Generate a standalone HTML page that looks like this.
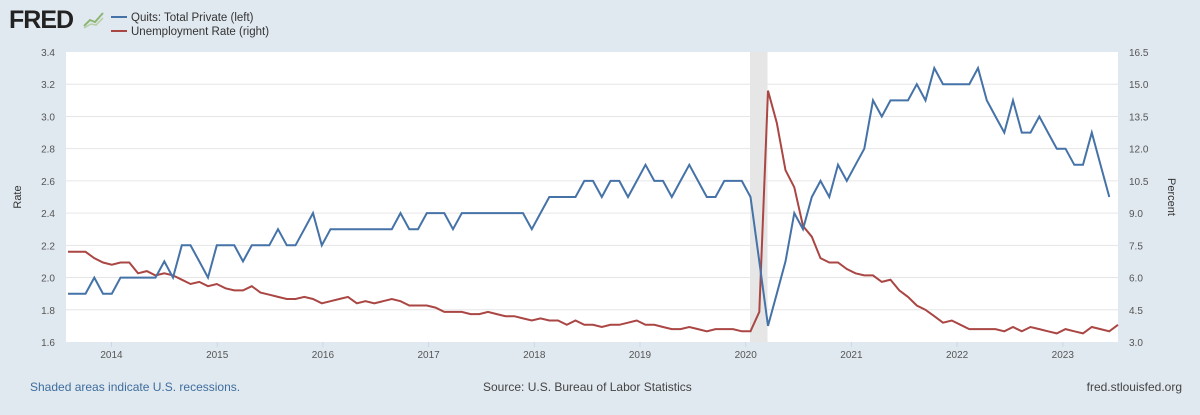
<!DOCTYPE html>
<html><head><meta charset="utf-8"><style>
body{margin:0;width:1200px;height:410px;background:#e1e9f0;font-family:"Liberation Sans",Arial,sans-serif;overflow:hidden}
</style></head><body>
<svg id="s" width="1200" height="410" xmlns="http://www.w3.org/2000/svg" font-family="Liberation Sans, Arial, sans-serif">
<rect width="1200" height="410" fill="#e1e9f0"/>
<text x="9" y="28" font-size="25" font-weight="bold" fill="#222" letter-spacing="-1">FRED</text>
<polyline points="84,26 90,20 95,22 103,13" fill="none" stroke="#8fb573" stroke-width="2"/>
<polyline points="84,28 91,24 96,25 103,18" fill="none" stroke="#b6cda5" stroke-width="1.5"/>
<line x1="111" y1="17" x2="127" y2="17" stroke="#4572a7" stroke-width="2"/>
<line x1="111" y1="31" x2="127" y2="31" stroke="#aa4643" stroke-width="2"/>
<text x="131" y="21" font-size="11.5" fill="#333">Quits: Total Private (left)</text>
<text x="131" y="35" font-size="11.5" fill="#333">Unemployment Rate (right)</text>
<rect x="66" y="52" width="1052" height="290" fill="#fff"/>
<rect x="750" y="52" width="17.5" height="290" fill="#e6e6e6"/>
<g id="g"></g>
<text transform="translate(21,197) rotate(-90)" font-size="11" fill="#333" text-anchor="middle">Rate</text>
<text transform="translate(1168,197) rotate(90)" font-size="11" fill="#333" text-anchor="middle">Percent</text>
<text x="30" y="391" font-size="12" fill="#3e6d9d">Shaded areas indicate U.S. recessions.</text>
<text x="483" y="391" font-size="12" fill="#444">Source: U.S. Bureau of Labor Statistics</text>
<text x="1182" y="391" font-size="12" fill="#444" text-anchor="end">fred.stlouisfed.org</text>
</svg>
<script>
var g=document.getElementById('g'),h='';
function yl(v){return 342-(v-1.6)*161.1}
function yr(v){return 342-(v-3)*21.48}
for(var i=0;i<10;i++){var v=1.6+i*0.2,y=yl(v);if(i>0&&i<9)h+='<line x1="66" x2="1118" y1="'+y+'" y2="'+y+'" stroke="#e6e6e6"/>';
h+='<text x="55" y="'+(y+4)+'" font-size="10" fill="#555" text-anchor="end">'+v.toFixed(1)+'</text>';
h+='<text x="1129" y="'+(y+4)+'" font-size="10" fill="#555">'+(3+i*1.5).toFixed(1)+'</text>';}
for(var yr_=2014;yr_<=2023;yr_++){var x=111.5+(yr_-2014)*105.7;h+='<line x1="'+x+'" x2="'+x+'" y1="342" y2="347" stroke="#ccd6eb"/><text x="'+x+'" y="358" font-size="10" fill="#555" text-anchor="middle">'+yr_+'</text>';}
var q=[1.9,1.9,1.9,2.0,1.9,1.9,2.0,2.0,2.0,2.0,2.0,2.1,2.0,2.2,2.2,2.1,2.0,2.2,2.2,2.2,2.1,2.2,2.2,2.2,2.3,2.2,2.2,2.3,2.4,2.2,2.3,2.3,2.3,2.3,2.3,2.3,2.3,2.3,2.4,2.3,2.3,2.4,2.4,2.4,2.3,2.4,2.4,2.4,2.4,2.4,2.4,2.4,2.4,2.3,2.4,2.5,2.5,2.5,2.5,2.6,2.6,2.5,2.6,2.6,2.5,2.6,2.7,2.6,2.6,2.5,2.6,2.7,2.6,2.5,2.5,2.6,2.6,2.6,2.5,2.1,1.7,1.9,2.1,2.4,2.3,2.5,2.6,2.5,2.7,2.6,2.7,2.8,3.1,3.0,3.1,3.1,3.1,3.2,3.1,3.3,3.2,3.2,3.2,3.2,3.3,3.1,3.0,2.9,3.1,2.9,2.9,3.0,2.9,2.8,2.8,2.7,2.7,2.9,2.7,2.5];
var u=[7.2,7.2,7.2,6.9,6.7,6.6,6.7,6.7,6.2,6.3,6.1,6.2,6.1,5.9,5.7,5.8,5.6,5.7,5.5,5.4,5.4,5.6,5.3,5.2,5.1,5.0,5.0,5.1,5.0,4.8,4.9,5.0,5.1,4.8,4.9,4.8,4.9,5.0,4.9,4.7,4.7,4.7,4.6,4.4,4.4,4.4,4.3,4.3,4.4,4.3,4.2,4.2,4.1,4.0,4.1,4.0,4.0,3.8,4.0,3.8,3.8,3.7,3.8,3.8,3.9,4.0,3.8,3.8,3.7,3.6,3.6,3.7,3.6,3.5,3.6,3.6,3.6,3.5,3.5,4.4,14.7,13.2,11.0,10.2,8.4,7.9,6.9,6.7,6.7,6.4,6.2,6.1,6.1,5.8,5.9,5.4,5.1,4.7,4.5,4.2,3.9,4.0,3.8,3.6,3.6,3.6,3.6,3.5,3.7,3.5,3.7,3.6,3.5,3.4,3.6,3.5,3.4,3.7,3.6,3.5,3.8];
function pts(a,f){return a.map(function(v,i){return (68+i*8.75).toFixed(1)+','+f(v).toFixed(1)}).join(' ')}
h+='<polyline points="'+pts(u,yr)+'" fill="none" stroke="#aa4643" stroke-width="2"/>';
h+='<polyline points="'+pts(q,yl)+'" fill="none" stroke="#4572a7" stroke-width="2"/>';
g.innerHTML=h;
</script>
</body></html>
